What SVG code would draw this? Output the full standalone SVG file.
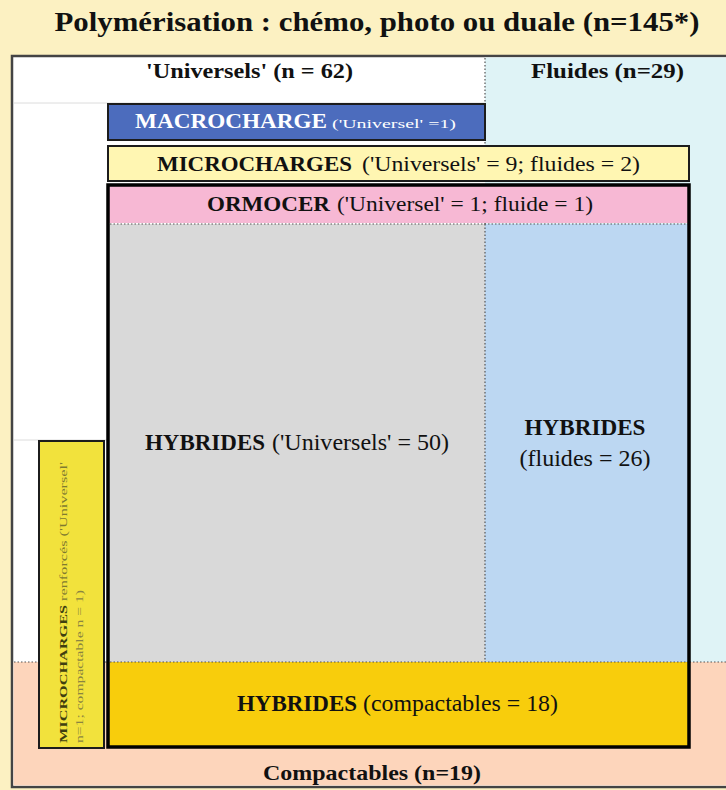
<svg xmlns="http://www.w3.org/2000/svg" width="726" height="790" viewBox="0 0 726 790">
<style>
  text { font-family: "Liberation Serif", "Times New Roman", serif; fill: #111; }
  .b { font-weight: bold; }
  .dot { stroke: #555; stroke-width: 1.2; stroke-dasharray: 1.5 2; fill: none; }
  .faint { stroke: #dcdcdc; stroke-width: 1; }
  .box { stroke: #1c1c1c; stroke-width: 2; }
</style>
<rect x="0" y="0" width="726" height="790" fill="#fcf1c2"/>
<text class="b" x="377" y="31" font-size="28" text-anchor="middle" textLength="645" lengthAdjust="spacingAndGlyphs">Polymérisation : chémo, photo ou duale (n=145*)</text>

<g id="frame">
  <rect x="12" y="56" width="730" height="731" fill="#ffffff" stroke="#444" stroke-width="2.5"/>
  <rect x="485" y="57.5" width="245" height="605" fill="#dff3f6"/>
  <rect x="13.5" y="662" width="720" height="123.5" fill="#fdd5bb"/>
  <line class="faint" x1="14" y1="103" x2="485" y2="103"/>
  <line class="faint" x1="14" y1="440" x2="108" y2="440"/>
  <line class="dot" x1="485" y1="58" x2="485" y2="662"/>
  <line class="dot" x1="14" y1="662" x2="726" y2="662"/>
  <text class="b" x="146" y="78" font-size="20" textLength="207" lengthAdjust="spacingAndGlyphs">'Universels' (n = 62)</text>
  <text class="b" x="531" y="78" font-size="20" textLength="153" lengthAdjust="spacingAndGlyphs">Fluides (n=29)</text>
  <text class="b" x="263" y="780" font-size="22" textLength="218" lengthAdjust="spacingAndGlyphs">Compactables (n=19)</text>
</g>

<g id="macrocharge">
  <rect class="box" x="108" y="104" width="377" height="36" fill="#4c6cbd"/>
  <text class="b" x="135" y="128" font-size="21" textLength="192" lengthAdjust="spacingAndGlyphs" style="fill:#ffffff">MACROCHARGE</text>
  <text x="332" y="128" font-size="13" textLength="124" lengthAdjust="spacingAndGlyphs" style="fill:#ffffff">('Universel' =1)</text>
</g>

<g id="microcharges">
  <rect class="box" x="108" y="146" width="581" height="35" fill="#fff6b2"/>
  <text class="b" x="157" y="171" font-size="22" textLength="195" lengthAdjust="spacingAndGlyphs">MICROCHARGES</text>
  <text x="362" y="171" font-size="22" textLength="278" lengthAdjust="spacingAndGlyphs">('Universels' = 9; fluides = 2)</text>
</g>

<g id="ormocer">
  <rect x="108" y="185" width="581" height="38" fill="#f7b8d4"/>
  <rect x="108" y="224" width="377" height="438" fill="#d9d9d9"/>
  <rect x="485" y="224" width="204" height="438" fill="#bcd7f2"/>
  <rect x="108" y="662" width="581" height="85" fill="#f8cd0c"/>
  <line class="dot" x1="110" y1="224" x2="688" y2="224"/>
  <line class="dot" x1="485" y1="224" x2="485" y2="662"/>
  <line class="dot" x1="110" y1="662" x2="688" y2="662"/>
  <rect x="108" y="185" width="581" height="562" fill="none" stroke="#000" stroke-width="3.5"/>
  <text class="b" x="207" y="211" font-size="22" textLength="123" lengthAdjust="spacingAndGlyphs">ORMOCER</text>
  <text x="337" y="211" font-size="22" textLength="256" lengthAdjust="spacingAndGlyphs">('Universel' = 1; fluide = 1)</text>
</g>

<g id="hybrides-universels">
  <text class="b" x="145" y="450" font-size="24" textLength="120" lengthAdjust="spacingAndGlyphs">HYBRIDES</text>
  <text x="272" y="450" font-size="24" textLength="177" lengthAdjust="spacingAndGlyphs">('Universels' = 50)</text>
</g>

<g id="hybrides-fluides">
  <text class="b" x="585" y="435" font-size="24" text-anchor="middle" textLength="121" lengthAdjust="spacingAndGlyphs">HYBRIDES</text>
  <text x="585" y="466" font-size="23" text-anchor="middle" textLength="131" lengthAdjust="spacingAndGlyphs">(fluides = 26)</text>
</g>

<g id="hybrides-compactables">
  <text class="b" x="237" y="711" font-size="23" textLength="120" lengthAdjust="spacingAndGlyphs">HYBRIDES</text>
  <text x="363" y="711" font-size="23" textLength="195" lengthAdjust="spacingAndGlyphs">(compactables = 18)</text>
</g>

<g id="microcharges-renforces">
  <rect class="box" x="39" y="441" width="65" height="307" fill="#f2e23c"/>
  <text transform="translate(67,743) rotate(-90)" x="0" y="0" font-size="11" textLength="281" lengthAdjust="spacingAndGlyphs"><tspan class="b" style="fill:#3f3f10">MICROCHARGES</tspan><tspan style="fill:#7f7a30"> renforcés ('Universel'</tspan></text>
  <text transform="translate(83,743) rotate(-90)" x="0" y="0" font-size="11" textLength="153" lengthAdjust="spacingAndGlyphs" style="fill:#8a8540">n=1; compactable n = 1)</text>
</g>
</svg>
